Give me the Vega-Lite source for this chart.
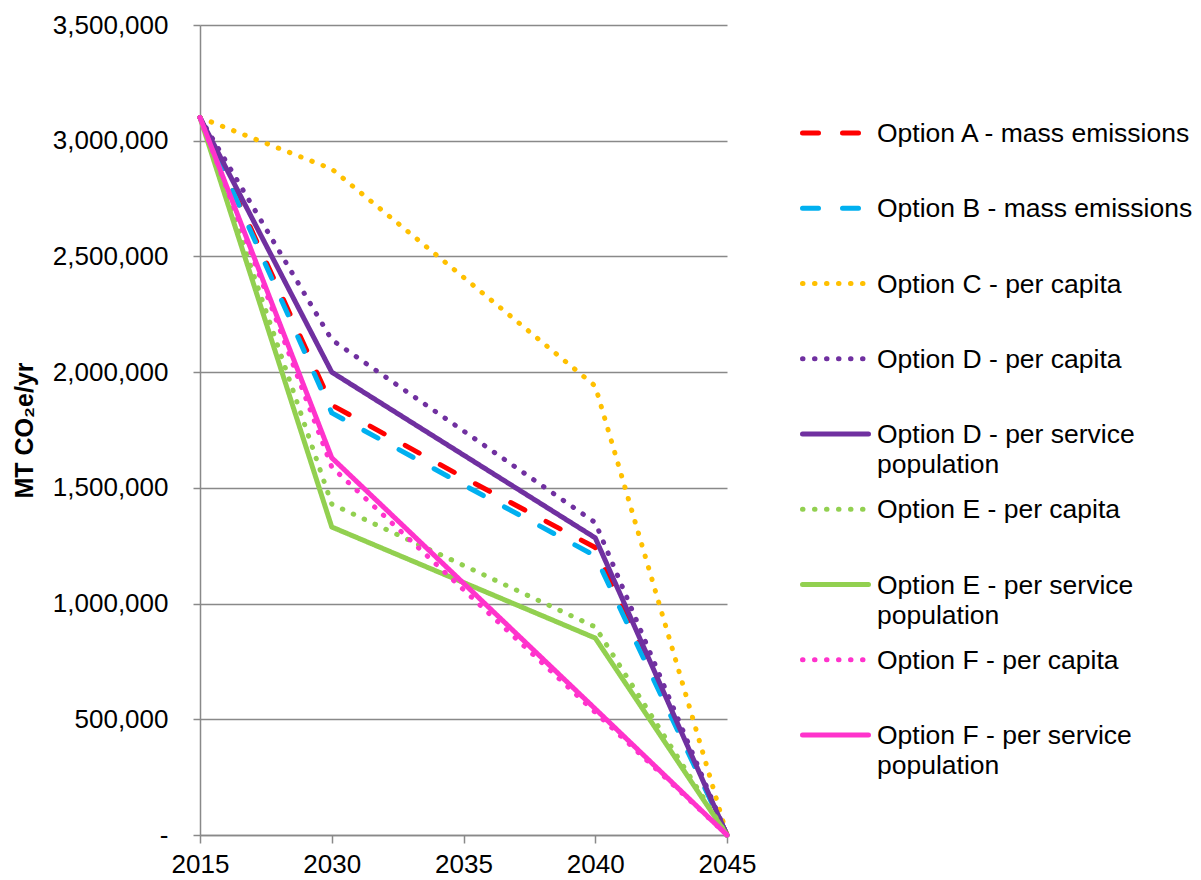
{
  "$schema": "https://vega.github.io/schema/vega-lite/v6.json",
  "width": 527,
  "height": 810,
  "autosize": {"type": "none"},
  "padding": {"left": 200, "top": 25, "right": 474, "bottom": 45},
  "background": "white",
  "config": {"font": "Liberation Sans", "view": {"stroke": null}},
  "data": {
    "values": [
      {"year": "2015", "series": "Option A - mass emissions", "value": 3100000},
      {"year": "2030", "series": "Option A - mass emissions", "value": 1858000},
      {"year": "2035", "series": "Option A - mass emissions", "value": 1545000},
      {"year": "2040", "series": "Option A - mass emissions", "value": 1242000},
      {"year": "2045", "series": "Option A - mass emissions", "value": 0},
      {"year": "2015", "series": "Option B - mass emissions", "value": 3100000},
      {"year": "2030", "series": "Option B - mass emissions", "value": 1824000},
      {"year": "2035", "series": "Option B - mass emissions", "value": 1513000},
      {"year": "2040", "series": "Option B - mass emissions", "value": 1206000},
      {"year": "2045", "series": "Option B - mass emissions", "value": 0},
      {"year": "2015", "series": "Option C - per capita", "value": 3100000},
      {"year": "2030", "series": "Option C - per capita", "value": 2878000},
      {"year": "2035", "series": "Option C - per capita", "value": 2410000},
      {"year": "2040", "series": "Option C - per capita", "value": 1940000},
      {"year": "2045", "series": "Option C - per capita", "value": 0},
      {"year": "2015", "series": "Option D - per capita", "value": 3100000},
      {"year": "2030", "series": "Option D - per capita", "value": 2140000},
      {"year": "2035", "series": "Option D - per capita", "value": 1746000},
      {"year": "2040", "series": "Option D - per capita", "value": 1350000},
      {"year": "2045", "series": "Option D - per capita", "value": 0},
      {"year": "2015", "series": "Option D - per service population", "value": 3100000},
      {"year": "2030", "series": "Option D - per service population", "value": 2000000},
      {"year": "2035", "series": "Option D - per service population", "value": 1642000},
      {"year": "2040", "series": "Option D - per service population", "value": 1284000},
      {"year": "2045", "series": "Option D - per service population", "value": 0},
      {"year": "2015", "series": "Option E - per capita", "value": 3100000},
      {"year": "2030", "series": "Option E - per capita", "value": 1430000},
      {"year": "2035", "series": "Option E - per capita", "value": 1165000},
      {"year": "2040", "series": "Option E - per capita", "value": 899000},
      {"year": "2045", "series": "Option E - per capita", "value": 0},
      {"year": "2015", "series": "Option E - per service population", "value": 3100000},
      {"year": "2030", "series": "Option E - per service population", "value": 1331000},
      {"year": "2035", "series": "Option E - per service population", "value": 1091000},
      {"year": "2040", "series": "Option E - per service population", "value": 851000},
      {"year": "2045", "series": "Option E - per service population", "value": 0},
      {"year": "2015", "series": "Option F - per capita", "value": 3100000},
      {"year": "2030", "series": "Option F - per capita", "value": 1590000},
      {"year": "2035", "series": "Option F - per capita", "value": 1060000},
      {"year": "2040", "series": "Option F - per capita", "value": 530000},
      {"year": "2045", "series": "Option F - per capita", "value": 0},
      {"year": "2015", "series": "Option F - per service population", "value": 3100000},
      {"year": "2030", "series": "Option F - per service population", "value": 1630000},
      {"year": "2035", "series": "Option F - per service population", "value": 1088000},
      {"year": "2040", "series": "Option F - per service population", "value": 545000},
      {"year": "2045", "series": "Option F - per service population", "value": 0}
    ]
  },
  "mark": {"type": "line", "strokeWidth": 5, "strokeCap": "round", "strokeJoin": "round"},
  "encoding": {
    "x": {
      "field": "year",
      "type": "ordinal",
      "sort": ["2015", "2030", "2035", "2040", "2045"],
      "scale": {"type": "point", "padding": 0},
      "axis": {
        "title": null,
        "labelAngle": 0,
        "labelFontSize": 26,
        "labelColor": "black",
        "labelPadding": 8,
        "tickSize": 8,
        "tickColor": "#898989",
        "tickWidth": 1.5,
        "domainColor": "#898989",
        "domainWidth": 1.5,
        "grid": false
      }
    },
    "y": {
      "field": "value",
      "type": "quantitative",
      "scale": {"domain": [0, 3500000], "nice": false},
      "axis": {
        "title": "MT CO₂e/yr",
        "titleFontSize": 25,
        "titleFontWeight": "bold",
        "titleColor": "black",
        "titlePadding": 15,
        "values": [0, 500000, 1000000, 1500000, 2000000, 2500000, 3000000, 3500000],
        "labelExpr": "datum.value == 0 ? '-\u00a0\u00a0' : format(datum.value, ',')",
        "labelFontSize": 26,
        "labelColor": "black",
        "labelPadding": 25,
        "tickSize": 7,
        "tickColor": "#898989",
        "tickWidth": 1.5,
        "domainColor": "#898989",
        "domainWidth": 1.5,
        "gridColor": "#898989",
        "gridWidth": 1.5
      }
    },
    "color": {
      "field": "series",
      "type": "nominal",
      "scale": {
        "domain": ["Option A - mass emissions", "Option B - mass emissions", "Option C - per capita", "Option D - per capita", "Option D - per service population", "Option E - per capita", "Option E - per service population", "Option F - per capita", "Option F - per service population"],
        "range": ["#FF0000", "#00B0F0", "#FFC000", "#7030A0", "#7030A0", "#92D050", "#92D050", "#FF33CC", "#FF33CC"]
      },
      "legend": {
        "title": null,
        "orient": "none",
        "legendX": 622.25,
        "legendY": 94.75,
        "padding": 0,
        "symbolType": "M-6.6,0H6.6",
        "symbolSize": 100,
        "symbolStrokeWidth": 5,
        "labelFontSize": 26.5,
        "labelColor": "black",
        "labelLimit": 500,
        "labelOffset": 28.25,
        "rowPadding": 17.25,
        "labelBaseline": "alphabetic",
        "labelExpr": "replace(datum.label, ' - per service population', '') != datum.label ? split(replace(datum.label, ' - per service population', ' - per service|population'), '|') : [datum.label, '\u00a0']",
        "encode": {
          "symbols": {"update": {"strokeCap": {"value": "round"}, "fill": {"value": "transparent"}}},
          "labels": {"update": {"dy": {"value": 9}, "lineHeight": {"value": 30}}}
        }
      }
    },
    "strokeDash": {
      "field": "series",
      "type": "nominal",
      "scale": {
        "domain": ["Option A - mass emissions", "Option B - mass emissions", "Option C - per capita", "Option D - per capita", "Option D - per service population", "Option E - per capita", "Option E - per service population", "Option F - per capita", "Option F - per service population"],
        "range": [[16, 24], [16, 24], [0.5, 11.5], [0.5, 11.5], [1, 0], [0.5, 11.5], [1, 0], [0.5, 11.5], [1, 0]]
      },
      "legend": {
        "title": null,
        "orient": "none",
        "legendX": 622.25,
        "legendY": 94.75,
        "padding": 0,
        "symbolType": "M-6.6,0H6.6",
        "symbolSize": 100,
        "symbolStrokeWidth": 5,
        "labelFontSize": 26.5,
        "labelColor": "black",
        "labelLimit": 500,
        "labelOffset": 28.25,
        "rowPadding": 17.25,
        "labelBaseline": "alphabetic",
        "labelExpr": "replace(datum.label, ' - per service population', '') != datum.label ? split(replace(datum.label, ' - per service population', ' - per service|population'), '|') : [datum.label, '\u00a0']",
        "encode": {
          "symbols": {"update": {"strokeCap": {"value": "round"}, "fill": {"value": "transparent"}}},
          "labels": {"update": {"dy": {"value": 9}, "lineHeight": {"value": 30}}}
        }
      }
    }
  }
}
